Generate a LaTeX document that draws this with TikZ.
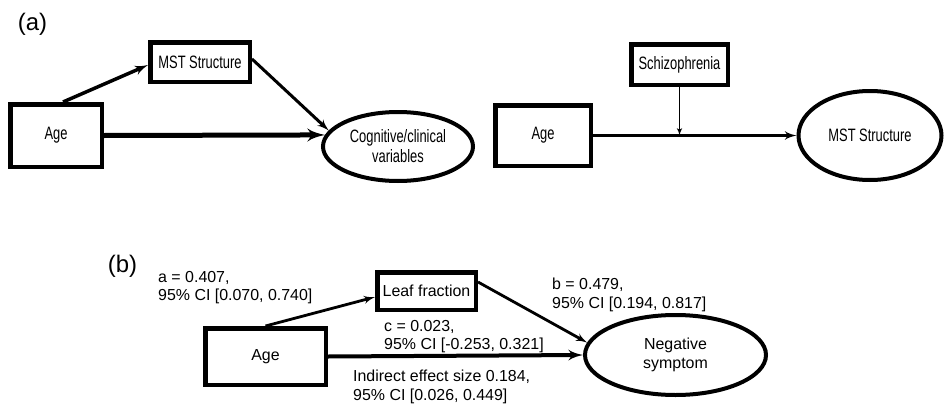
\documentclass[tikz,border=0pt]{standalone}
\usepackage{fontspec}
\setmainfont{Liberation Sans}
\newfontfamily\narrowsans[FakeStretch=0.72]{Liberation Sans}
\usepackage{tikz}
\usetikzlibrary{arrows,shapes}

\begin{document}
\begin{tikzpicture}[>=latex', join=miter,
  every node/.style={inner sep=0pt},
  varbox/.style={draw, rectangle, line width=4.5bp},
  varoval/.style={draw, ellipse, line width=4bp, align=center},
  afont/.style={font=\narrowsans\fontsize{18}{20}\selectfont},
  bfont/.style={font=\fontsize{16}{18.5}\selectfont},
  coef/.style={bfont, align=left, anchor=north west},
  panel/.style={font=\fontsize{24}{26}\selectfont}]
  \useasboundingbox (0bp, 0bp) rectangle (944bp, -407bp);

  % Panel labels
  \node (labela) at (32.5bp, -24bp) [panel] {(a)};
  \node (labelb) at (122.5bp, -266bp) [panel] {(b)};

  % States, (a) left
  \node (mstA) at (200bp, -62bp) [varbox, afont, minimum width=99.5bp, minimum height=39.5bp] {MST Structure};
  \node (ageA) at (56bp, -135.5bp) [varbox, afont, minimum width=91.5bp, minimum height=62.5bp] {Age};
  \node (cog) at (398bp, -146.5bp) [varoval, afont, minimum width=150bp, minimum height=69bp] {Cognitive/clinical\\variables};

  % States, (a) right
  \node (schz) at (679.5bp, -64.5bp) [varbox, afont, minimum width=96.5bp, minimum height=40.5bp] {Schizophrenia};
  \node (ageB) at (543bp, -135.5bp) [varbox, afont, minimum width=95.5bp, minimum height=60.5bp] {Age};
  \node (mstB) at (870bp, -135.5bp) [varoval, afont, minimum width=143bp, minimum height=89bp] {MST Structure};
  \coordinate (moder) at (schz.south |- ageB.east);

  % States, (b)
  \node (leaf) at (426.5bp, -291bp) [varbox, bfont, minimum width=98.5bp, minimum height=37.5bp] {Leaf fraction};
  \node (ageC) at (265.5bp, -356.5bp) [varbox, bfont, minimum width=120.5bp, minimum height=56.5bp] {Age};
  \node (neg) at (675.5bp, -355bp) [varoval, bfont, minimum width=181bp, minimum height=80bp] {Negative\\symptom};

  % Coefficients
  \node (coefa) at (158bp, -271bp) [coef] {a = 0.407,\\95\% CI [0.070, 0.740]};
  \node (coefb) at (552bp, -278bp) [coef] {b = 0.479,\\95\% CI [0.194, 0.817]};
  \node (coefc) at (384bp, -320bp) [coef] {c = 0.023,\\95\% CI [-0.253, 0.321]};
  \node (coefind) at (353bp, -370bp) [coef] {Indirect effect size 0.184,\\95\% CI [0.026, 0.449]};

  % Edges
  \draw[line width=3.5bp, ->] ([xshift=7bp]ageA.north) to ([yshift=-3bp]mstA.west);
  \draw[line width=3bp, ->] ([yshift=3bp]mstA.east) to (cog.167);
  \draw[line width=5bp, ->] (ageA.east) to (cog.171);

  \draw[line width=3bp, ->] (ageB.east) to (mstB.west);
  \draw[line width=1.5bp, ->] (schz.south) to (moder);

  \draw[line width=2.8bp, ->] (ageC.north) to ([yshift=-6bp]leaf.west);
  \draw[line width=2.8bp, ->] ([yshift=9bp]leaf.east) to (neg.172);
  \draw[line width=4bp, ->] (ageC.east) to (neg.west);
\end{tikzpicture}
\end{document}
